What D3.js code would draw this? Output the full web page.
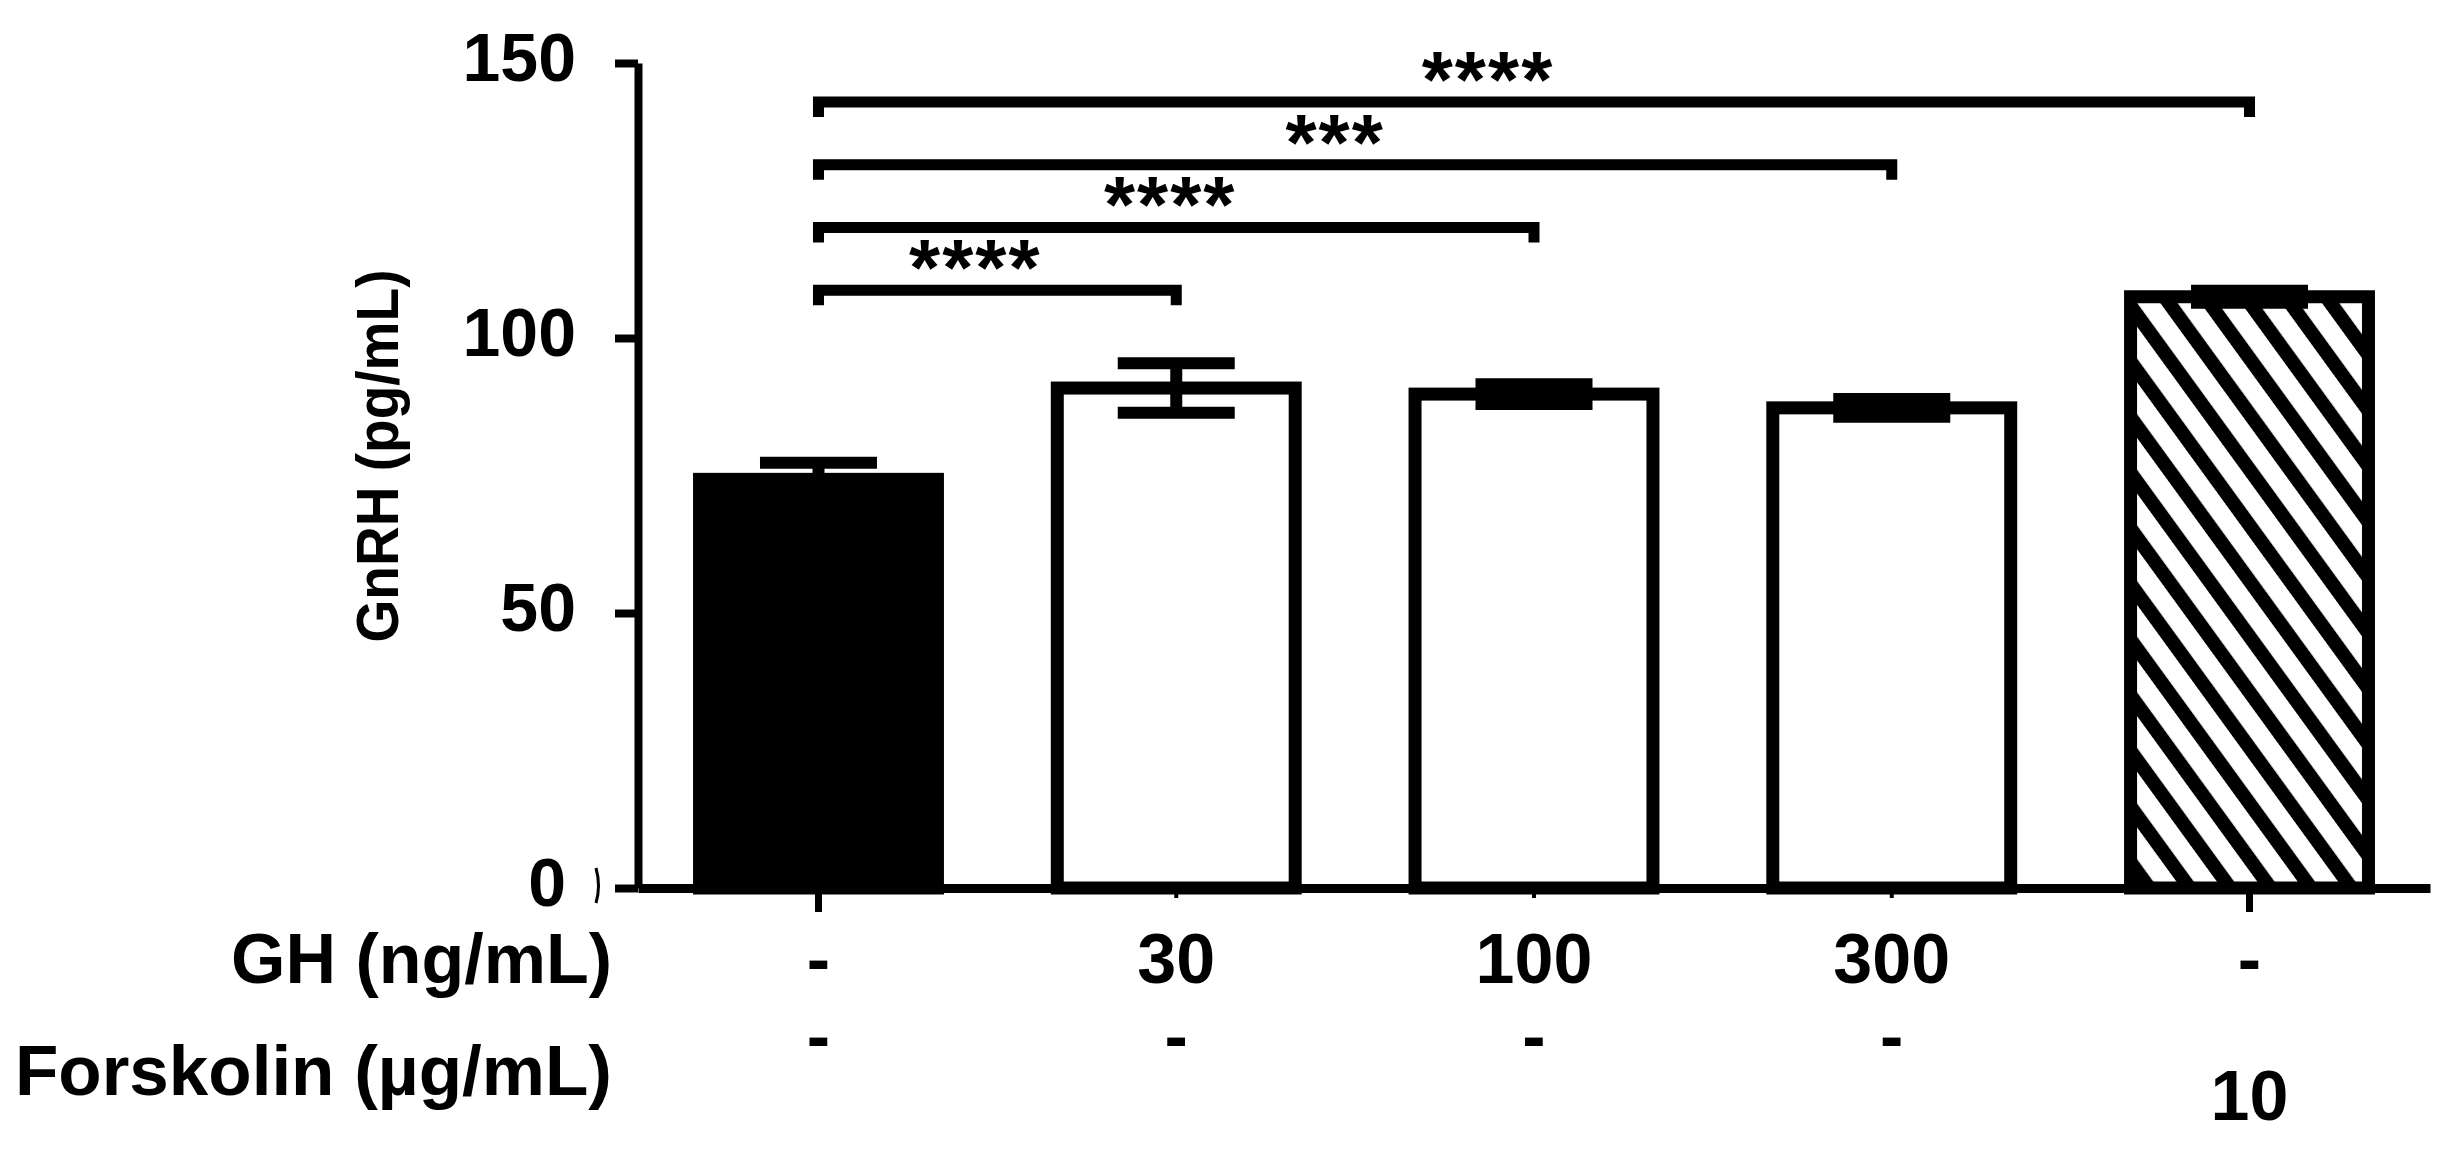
<!DOCTYPE html>
<html>
<head>
<meta charset="utf-8">
<script src="https://cdn.jsdelivr.net/npm/d3@7"></script>
<style>
	body { margin: 0; background: #fff; }
	svg text { font-family: "Liberation Sans", Arial, sans-serif; font-weight: bold; fill: #000; }
</style>
</head>
<body>
<svg id="chart" width="2460" height="1171"></svg>
<script>
var groups = ["ctrl", "gh30", "gh100", "gh300", "fsk10"];
var ghLabels = ["-", "30", "100", "300", "-"];
var forskolinLabels = ["-", "-", "-", "-", "10"];
var means = [74.3, 90.9, 89.8, 87.3, 107.5];
var sems = [3.0, 4.5, 1.8, 1.6, 1.1];
var fills = ["solid", "open", "open", "open", "hatch"];
var yTicks = [0, 50, 100, 150];
var comparisons = [
	{"from": "ctrl", "to": "gh30", "label": "****"},
	{"from": "ctrl", "to": "gh100", "label": "****"},
	{"from": "ctrl", "to": "gh300", "label": "***"},
	{"from": "ctrl", "to": "fsk10", "label": "****"}
];

// star labels are not quite centred in the original
var starNudge = [-22, -6, -20, -46];

drawChart();

function drawChart(){
	var svg = d3.select("#chart");

	var x = d3.scaleBand()
		.domain(groups)
		.range([638, 2430])
		.paddingInner(0.335)
		.paddingOuter(0.172);

	var y = d3.scaleLinear()
		.domain([0, 150])
		.range([888, 63]);

	// hatch for the forskolin bar
	svg.append("defs").append("pattern")
		.attr("id", "hatch")
		.attr("patternUnits", "userSpaceOnUse")
		.attr("width", 32.7)
		.attr("height", 20)
		.attr("patternTransform", "rotate(-36)")
		.append("rect")
			.attr("width", 14)
			.attr("height", 20)
			.attr("fill", "black");

	// bars
	svg.selectAll(".bar")
		.data(groups)
		.enter().append("rect")
			.attr("class", "bar")
			.attr("x", function(d){ return x(d); })
			.attr("width", x.bandwidth())
			.attr("y", function(d, i){ return y(means[i]); })
			.attr("height", function(d, i){ return y(0) - y(means[i]); })
			.attr("fill", function(d, i){
				if(fills[i] == "solid") return "black";
				if(fills[i] == "hatch") return "url(#hatch)";
				return "white";
			})
			.attr("stroke", "black")
			.attr("stroke-width", 13);

	// error bars
	var capW = 117;
	for (var i = 0; i < groups.length; i++) {
		var cx = x(groups[i]) + x.bandwidth() / 2;
		var hi = y(means[i] + sems[i]);
		var lo = y(means[i] - sems[i]);
		svg.append("line")
			.attr("x1", cx).attr("x2", cx)
			.attr("y1", hi).attr("y2", lo)
			.attr("stroke", "black")
			.attr("stroke-width", 12);
		svg.append("line")
			.attr("x1", cx - capW / 2).attr("x2", cx + capW / 2)
			.attr("y1", hi).attr("y2", hi)
			.attr("stroke", "black")
			.attr("stroke-width", 12);
		svg.append("line")
			.attr("x1", cx - capW / 2).attr("x2", cx + capW / 2)
			.attr("y1", lo).attr("y2", lo)
			.attr("stroke", "black")
			.attr("stroke-width", 12);
	};

	// y axis
	var yAxis = svg.append("g")
		.attr("transform", "translate(638,0)")
		.call(d3.axisLeft(y).tickValues(yTicks).tickSize(23).tickSizeOuter(0).tickPadding(39));
	yAxis.select(".domain").attr("stroke-width", 8);
	yAxis.selectAll(".tick line").attr("stroke-width", 8);
	yAxis.selectAll(".tick text")
		.attr("font-size", 68)
		.attr("dy", 17)
		.attr("dx", function(d){ return d == 0 ? -10 : 0; });

	// small stray mark next to the 0 label
	svg.append("path")
		.attr("d", "M596," + (y(0) - 20) + " Q601," + (y(0) - 2) + " 596," + (y(0) + 15))
		.attr("fill", "none")
		.attr("stroke", "black")
		.attr("stroke-width", 3);

	// x axis
	var xAxis = svg.append("g")
		.attr("transform", "translate(0," + y(0) + ")")
		.call(d3.axisBottom(x).tickSize(24).tickSizeOuter(0).tickFormat(""));
	xAxis.select(".domain").attr("stroke-width", 9);
	xAxis.selectAll(".tick line")
		.attr("stroke-width", function(d, i){ return (i == 0 || i == groups.length - 1) ? 7 : 4; })
		.attr("y2", function(d, i){ return (i == 0 || i == groups.length - 1) ? 24 : 10; });

	// y axis title
	svg.append("text")
		.text("GnRH (pg/mL)")
		.attr("font-size", 59)
		.attr("textLength", 373)
		.attr("lengthAdjust", "spacingAndGlyphs")
		.attr("text-anchor", "middle")
		.attr("transform", "translate(398,456) rotate(-90)");

	// treatment rows under the axis
	svg.append("text")
		.text("GH (ng/mL)")
		.attr("font-size", 70)
		.attr("text-anchor", "end")
		.attr("x", 612)
		.attr("y", 983);
	svg.append("text")
		.text("Forskolin (µg/mL)")
		.attr("font-size", 71)
		.attr("text-anchor", "end")
		.attr("x", 612)
		.attr("y", 1095);

	svg.selectAll(".ghLabel")
		.data(ghLabels)
		.enter().append("text")
			.attr("class", "ghLabel")
			.text(function(d){ return d; })
			.attr("font-size", 70)
			.attr("text-anchor", "middle")
			.attr("x", function(d, i){ return x(groups[i]) + x.bandwidth() / 2; })
			.attr("y", 983);

	svg.selectAll(".fskLabel")
		.data(forskolinLabels)
		.enter().append("text")
			.attr("class", "fskLabel")
			.text(function(d){ return d; })
			.attr("font-size", 70)
			.attr("text-anchor", "middle")
			.attr("x", function(d, i){ return x(groups[i]) + x.bandwidth() / 2; })
			.attr("y", function(d){ return d == "-" ? 1060 : 1120; });

	// significance brackets
	for (var j = 0; j < comparisons.length; j++) {
		var c = comparisons[j];
		var x1 = x(c.from) + x.bandwidth() / 2;
		var x2 = x(c.to) + x.bandwidth() / 2;
		var yb = y(108.7 + j * 11.4);
		svg.append("path")
			.attr("d", "M" + x1 + "," + (yb + 15) + "V" + yb + "H" + x2 + "V" + (yb + 15))
			.attr("fill", "none")
			.attr("stroke", "black")
			.attr("stroke-width", 11);
		svg.append("text")
			.text(c.label)
			.attr("font-size", 80)
			.attr("letter-spacing", 2)
			.attr("text-anchor", "middle")
			.attr("x", (x1 + x2) / 2 + starNudge[j])
			.attr("y", yb + 5);
	};
}
</script>
</body>
</html>
